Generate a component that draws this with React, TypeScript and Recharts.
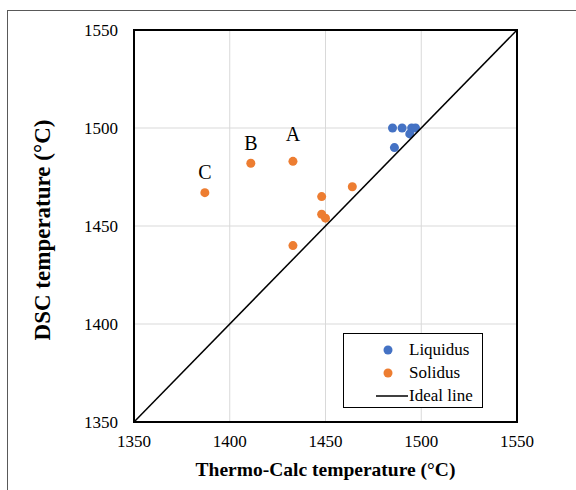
import React from "react";
import {
  ScatterChart,
  Scatter,
  XAxis,
  YAxis,
  CartesianGrid,
  Legend,
  ReferenceArea,
} from "recharts";

const FONT = "'Liberation Serif', 'Times New Roman', serif";

const axisTicks = [1350, 1400, 1450, 1500, 1550];
const gridTicks = [1400, 1450, 1500];

const liquidus = [
  { x: 1485, y: 1500 },
  { x: 1490, y: 1500 },
  { x: 1495, y: 1500 },
  { x: 1497, y: 1500 },
  { x: 1494, y: 1497 },
  { x: 1486, y: 1490 },
];

const solidus = [
  { x: 1433, y: 1483, tag: "A" },
  { x: 1411, y: 1482, tag: "B" },
  { x: 1387, y: 1467, tag: "C" },
  { x: 1464, y: 1470 },
  { x: 1448, y: 1465 },
  { x: 1448, y: 1456 },
  { x: 1450, y: 1454 },
  { x: 1433, y: 1440 },
];

const idealLine = [
  { x: 1350, y: 1350 },
  { x: 1550, y: 1550 },
];

const legendOrder = ["Liquidus", "Solidus", "Ideal line"];

// how far above the point each letter sits
const tagGap: Record<string, number> = { A: 16, B: 9, C: 9 };

function SolidusDot(props: any) {
  const { cx, cy, payload } = props;
  return (
    <g>
      <circle cx={cx} cy={cy} r={4.5} fill="#ED7D31" />
      {payload.tag && (
        <text
          x={cx}
          y={cy - 4.5 - tagGap[payload.tag]}
          textAnchor="middle"
          fontFamily={FONT}
          fontSize={20}
          fill="#000"
        >
          {payload.tag}
        </text>
      )}
    </g>
  );
}

function LegendBox({ payload }: any) {
  const items = [...(payload || [])].sort(
    (a: any, b: any) => legendOrder.indexOf(a.value) - legendOrder.indexOf(b.value)
  );
  return (
    <div
      style={{
        border: "1.5px solid #000",
        background: "#fff",
        padding: "4px 0 3px 0",
        fontFamily: FONT,
        fontSize: 17,
        boxSizing: "border-box",
        height: 75,
      }}
    >
      {items.map((p: any) => (
        <div
          key={p.value}
          style={{ display: "flex", alignItems: "center", height: 23 }}
        >
          <div style={{ width: 64, display: "flex", justifyContent: "flex-end" }}>
            {p.type === "line" ? (
              <svg width={32} height={4}>
                <line x1={0} y1={2} x2={32} y2={2} stroke="#000" strokeWidth={1.5} />
              </svg>
            ) : (
              <svg width={10} height={10} style={{ marginRight: 15 }}>
                <circle cx={5} cy={5} r={4.5} fill={p.color} />
              </svg>
            )}
          </div>
          <span style={{ marginLeft: 1, color: "#000" }}>{p.value}</span>
        </div>
      ))}
    </div>
  );
}

export default function App() {
  return (
    <div
      style={{
        position: "absolute",
        left: 0,
        top: 0,
        width: 576,
        height: 490,
        overflow: "hidden",
        background: "#fff",
      }}
    >
      <div
        style={{
          position: "absolute",
          left: 7,
          top: 10,
          width: 600,
          height: 500,
          border: "1px solid #595959",
        }}
      />
      <ScatterChart
        width={576}
        height={490}
        margin={{ top: 30, right: 59, bottom: 0, left: 0 }}
      >
        <CartesianGrid
          stroke="#d9d9d9"
          strokeWidth={1}
          horizontalValues={gridTicks}
          verticalValues={gridTicks}
        />
        <XAxis
          type="number"
          dataKey="x"
          domain={[1350, 1550]}
          ticks={axisTicks}
          height={68}
          axisLine={false}
          tickLine={false}
          tickSize={0}
          tickMargin={13}
          tick={{ fill: "#000", fontSize: 17, fontFamily: FONT }}
          label={() => (
            <text
              x={325.5}
              y={476}
              textAnchor="middle"
              fontFamily={FONT}
              fontWeight="bold"
              fontSize={19.5}
              fill="#000"
            >
              Thermo-Calc temperature (°C)
            </text>
          )}
        />
        <YAxis
          type="number"
          dataKey="y"
          domain={[1350, 1550]}
          ticks={axisTicks}
          width={134}
          axisLine={false}
          tickLine={false}
          tickSize={0}
          tickMargin={16}
          tick={{ fill: "#000", fontSize: 17, fontFamily: FONT }}
          label={() => (
            <text
              x={50}
              y={230}
              transform="rotate(-90, 50, 230)"
              textAnchor="middle"
              fontFamily={FONT}
              fontWeight="bold"
              fontSize={23}
              fill="#000"
            >
              DSC temperature (°C)
            </text>
          )}
        />
        <ReferenceArea
          x1={1350}
          x2={1550}
          y1={1350}
          y2={1550}
          fill="none"
          fillOpacity={0}
          stroke="#000"
          strokeWidth={2}
        />
        <Scatter
          name="Liquidus"
          data={liquidus}
          fill="#4472C4"
          isAnimationActive={false}
        />
        <Scatter
          name="Solidus"
          data={solidus}
          fill="#ED7D31"
          shape={SolidusDot}
          isAnimationActive={false}
        />
        <Scatter
          name="Ideal line"
          data={idealLine}
          fill="#000"
          line={{ stroke: "#000", strokeWidth: 1.5 }}
          shape={() => <g />}
          legendType="line"
          isAnimationActive={false}
        />
        <Legend
          layout="vertical"
          align="center"
          verticalAlign="middle"
          content={LegendBox}
          wrapperStyle={{ left: 343, top: 333, width: 140, right: "auto", bottom: "auto" }}
        />
      </ScatterChart>
    </div>
  );
}
